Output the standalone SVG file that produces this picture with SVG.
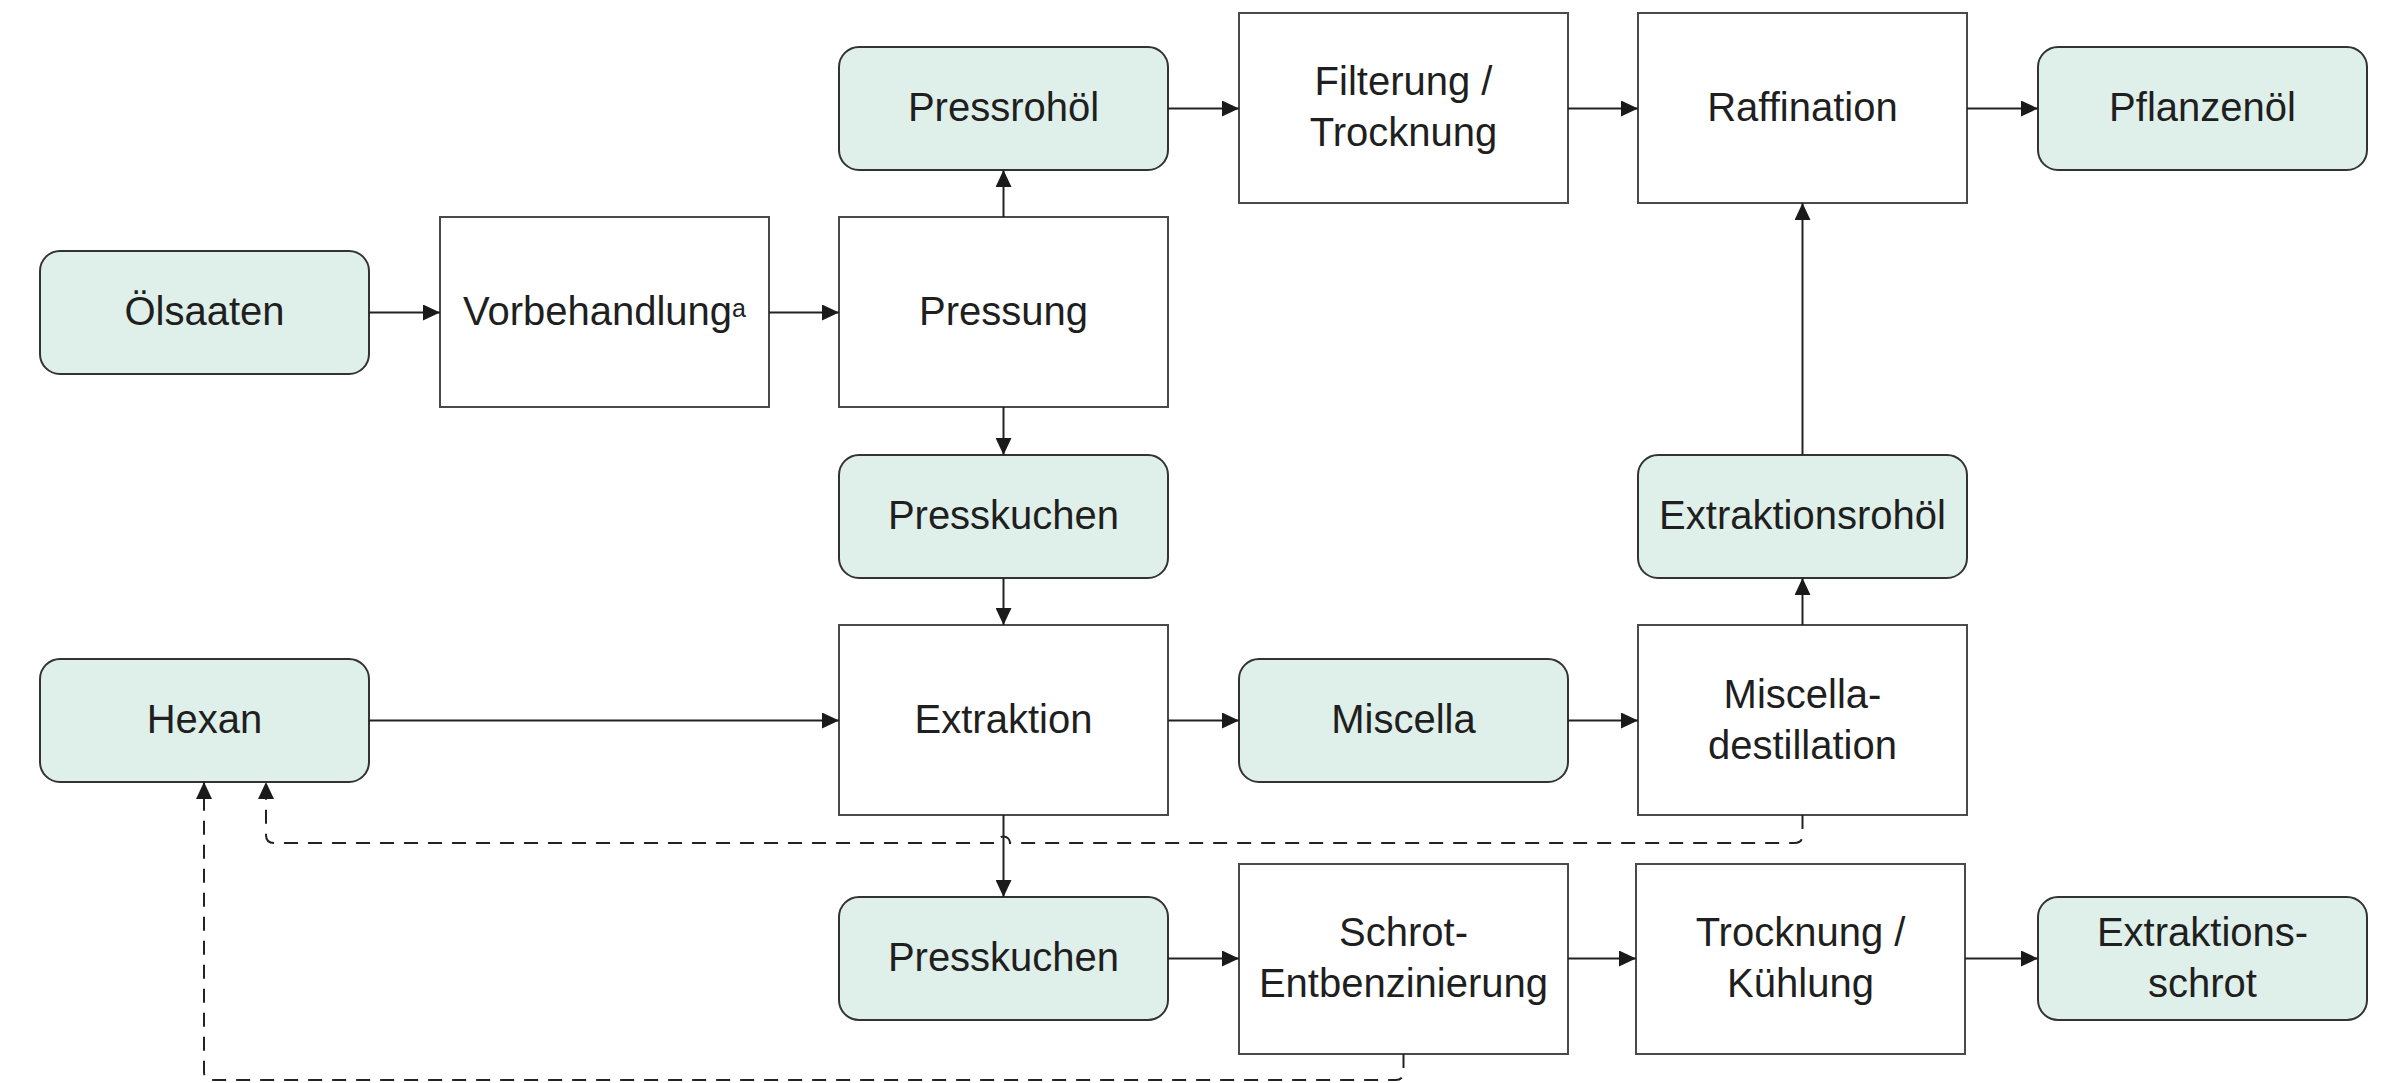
<svg xmlns="http://www.w3.org/2000/svg" width="2401" height="1083" viewBox="0 0 2401 1083">
  <style>
    .product rect { fill: #dfefe9; stroke: #333333; stroke-width: 2; }
    .step rect { fill: #ffffff; stroke: #4a4a4a; stroke-width: 2; }
    text { font-family: "Liberation Sans", Arial, sans-serif; font-size: 40px; fill: #1f1f1f; text-anchor: middle; }
    .flow { fill: none; stroke: #222222; stroke-width: 2; marker-end: url(#arrow); }
    .recycle { fill: none; stroke: #222222; stroke-width: 2; stroke-dasharray: 14 10; marker-end: url(#arrow); }
  </style>
  <defs>
    <marker id="arrow" viewBox="0 0 17 16" refX="17" refY="8" markerWidth="17" markerHeight="16" markerUnits="userSpaceOnUse" orient="auto">
      <path d="M0,0 L17,8 L0,16 z" fill="#1a1a1a"/>
    </marker>
  </defs>
  <rect width="2401" height="1083" fill="#ffffff"/>

  <g id="nodes">
    <g id="oelsaaten" class="product">
      <rect x="40" y="251" width="329" height="123" rx="20"/>
      <text x="204.5" y="325">Ölsaaten</text>
    </g>
    <g id="vorbehandlung" class="step">
      <rect x="440" y="217" width="329" height="190"/>
      <text x="604.5" y="325">Vorbehandlung<tspan font-size="25" dy="-8">a</tspan></text>
    </g>
    <g id="pressung" class="step">
      <rect x="839" y="217" width="329" height="190"/>
      <text x="1003.5" y="325">Pressung</text>
    </g>
    <g id="pressrohoel" class="product">
      <rect x="839" y="47" width="329" height="123" rx="20"/>
      <text x="1003.5" y="121">Pressrohöl</text>
    </g>
    <g id="filterung" class="step">
      <rect x="1239" y="13" width="329" height="190"/>
      <text x="1403.5" y="95">Filterung /</text>
      <text x="1403.5" y="146">Trocknung</text>
    </g>
    <g id="raffination" class="step">
      <rect x="1638" y="13" width="329" height="190"/>
      <text x="1802.5" y="121">Raffination</text>
    </g>
    <g id="pflanzenoel" class="product">
      <rect x="2038" y="47" width="329" height="123" rx="20"/>
      <text x="2202.5" y="121">Pflanzenöl</text>
    </g>
    <g id="presskuchen-1" class="product">
      <rect x="839" y="455" width="329" height="123" rx="20"/>
      <text x="1003.5" y="529">Presskuchen</text>
    </g>
    <g id="extraktionsrohoel" class="product">
      <rect x="1638" y="455" width="329" height="123" rx="20"/>
      <text x="1802.5" y="529">Extraktionsrohöl</text>
    </g>
    <g id="hexan" class="product">
      <rect x="40" y="659" width="329" height="123" rx="20"/>
      <text x="204.5" y="733">Hexan</text>
    </g>
    <g id="extraktion" class="step">
      <rect x="839" y="625" width="329" height="190"/>
      <text x="1003.5" y="733">Extraktion</text>
    </g>
    <g id="miscella" class="product">
      <rect x="1239" y="659" width="329" height="123" rx="20"/>
      <text x="1403.5" y="733">Miscella</text>
    </g>
    <g id="miscelladestillation" class="step">
      <rect x="1638" y="625" width="329" height="190"/>
      <text x="1802.5" y="708">Miscella-</text>
      <text x="1802.5" y="759">destillation</text>
    </g>
    <g id="presskuchen-2" class="product">
      <rect x="839" y="897" width="329" height="123" rx="20"/>
      <text x="1003.5" y="971">Presskuchen</text>
    </g>
    <g id="schrot-entbenzinierung" class="step">
      <rect x="1239" y="864" width="329" height="190"/>
      <text x="1403.5" y="946">Schrot-</text>
      <text x="1403.5" y="997">Entbenzinierung</text>
    </g>
    <g id="trocknung-kuehlung" class="step">
      <rect x="1636" y="864" width="329" height="190"/>
      <text x="1800.5" y="946">Trocknung /</text>
      <text x="1800.5" y="997">Kühlung</text>
    </g>
    <g id="extraktionsschrot" class="product">
      <rect x="2038" y="897" width="329" height="123" rx="20"/>
      <text x="2202.5" y="946">Extraktions-</text>
      <text x="2202.5" y="997">schrot</text>
    </g>
  </g>

  <g id="connectors">
    <!-- main material flow -->
    <path class="flow" d="M369,312.5 H440"/>
    <path class="flow" d="M769,312.5 H839"/>
    <path class="flow" d="M1003.5,217 V170"/>
    <path class="flow" d="M1168,108.5 H1239"/>
    <path class="flow" d="M1568,108.5 H1638"/>
    <path class="flow" d="M1967,108.5 H2038"/>
    <path class="flow" d="M1003.5,407 V455"/>
    <path class="flow" d="M1003.5,578 V625"/>
    <path class="flow" d="M369,720.5 H839"/>
    <path class="flow" d="M1168,720.5 H1239"/>
    <path class="flow" d="M1568,720.5 H1638"/>
    <path class="flow" d="M1802.5,625 V578"/>
    <path class="flow" d="M1802.5,455 V203"/>
    <path class="flow" d="M1003.5,815 V897"/>
    <path class="flow" d="M1168,958.5 H1239"/>
    <path class="flow" d="M1568,958.5 H1636"/>
    <path class="flow" d="M1965,958.5 H2038"/>
    <!-- hexane recycling -->
    <path class="recycle" d="M1802.5,815 V835 Q1802.5,843 1794.5,843 H1010 A6.5,6.5 0 0 0 997,843 H274 Q266,843 266,835 V782"/>
    <path class="recycle" d="M1403.5,1054 V1072 Q1403.5,1080 1395.5,1080 H212 Q204,1080 204,1072 V782"/>
  </g>
</svg>
